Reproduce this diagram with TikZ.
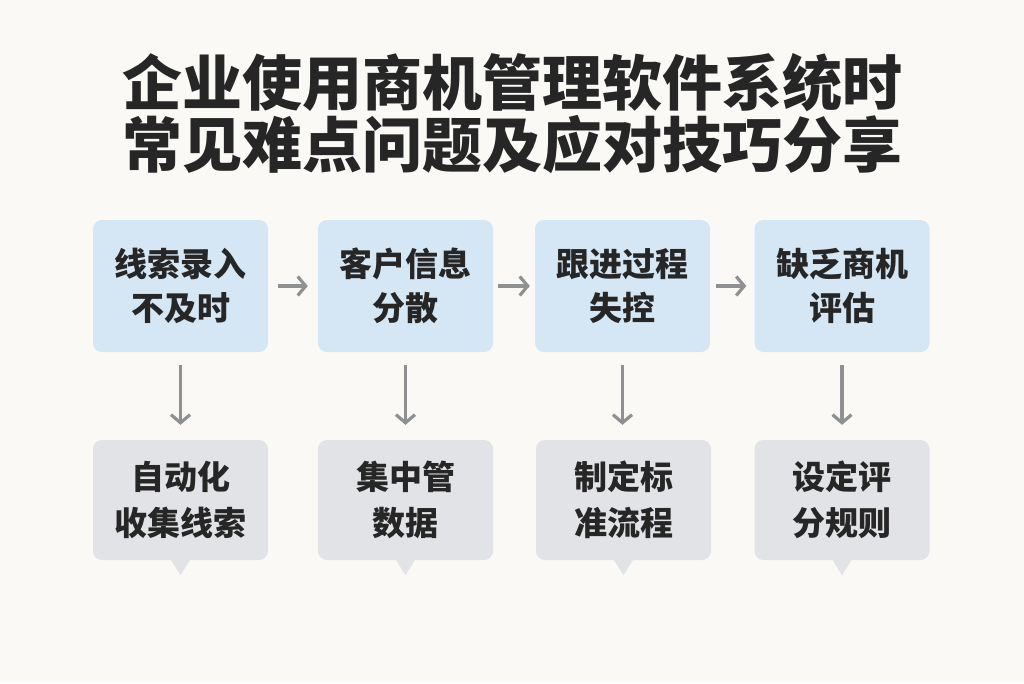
\documentclass[tikz,border=0pt]{standalone}
\usepackage{fontspec}
\setmainfont{Noto Sans CJK SC}
\usetikzlibrary{arrows.meta}
\definecolor{bg}{HTML}{FAF9F6}
\definecolor{boxblue}{HTML}{D5E6F4}
\definecolor{bubblegray}{HTML}{E2E3E6}
\definecolor{arrowgray}{HTML}{8E9092}
\definecolor{ink}{HTML}{262626}
\begin{document}
\begin{tikzpicture}[x=1pt,y=-1pt,>={Straight Barb[length=8pt,width=19pt]}]
\tikzstyle{problem}=[fill=boxblue,rounded corners=9pt,minimum width=175pt,minimum height=132pt,align=center,text=ink,font=\fontsize{33}{44}\selectfont\bfseries]
\tikzstyle{answer}=[fill=bubblegray,rounded corners=9pt,minimum width=175pt,minimum height=120pt,align=center,text=ink,font=\fontsize{33}{46}\selectfont\bfseries]
\tikzstyle{flow}=[->,draw=arrowgray,line width=3.2pt]

\useasboundingbox (0,0) rectangle (1024,683);
\fill[bg] (0,0) rectangle (1024,683);

% title
\node[text=ink,font=\fontsize{60}{62}\selectfont\bfseries,align=center] at (512,114) (title) {企业使用商机管理软件系统时\\常见难点问题及应对技巧分享};

% problems
\node[problem] at (180.5,286) (p1) {线索录入\\不及时};
\node[problem] at (405.5,286) (p2) {客户信息\\分散};
\node[problem] at (622.5,286) (p3) {跟进过程\\失控};
\node[problem] at (842,286) (p4) {缺乏商机\\评估};

% answers
\node[answer] at (180.5,500) (s1) {自动化\\收集线索};
\node[answer] at (405.5,500) (s2) {集中管\\数据};
\node[answer] at (623.5,500) (s3) {制定标\\准流程};
\node[answer] at (842,500) (s4) {设定评\\分规则};
\foreach \s in {s1,s2,s3,s4}
  \fill[bubblegray] (\s.south) ++(-10,-1) -- ++(10,16) -- ++(10,-16) -- cycle;

\draw[flow,shorten <=10pt,shorten >=10pt] (p1) -- (p2);
\draw[flow,shorten <=5pt,shorten >=5pt] (p2) -- (p3);
\draw[flow,shorten <=6pt,shorten >=8pt] (p3) -- (p4);

\foreach \i in {1,2,3,4}
  \draw[flow,shorten <=13pt,shorten >=15pt] (p\i.south) -- (p\i.south |- s\i.north);
\end{tikzpicture}
\end{document}
